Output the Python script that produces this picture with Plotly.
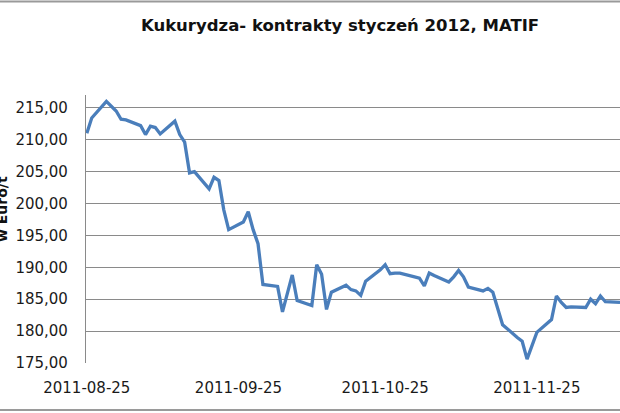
import plotly.graph_objects as go

title_text = "Kukurydza- kontrakty styczeń 2012, MATIF"
y_title = "w Euro/t"

dates = [
    "2011-08-25", "2011-08-26", "2011-08-29", "2011-08-30", "2011-08-31",
    "2011-09-01", "2011-09-02", "2011-09-05", "2011-09-06", "2011-09-07",
    "2011-09-08", "2011-09-09", "2011-09-12", "2011-09-13", "2011-09-14",
    "2011-09-15", "2011-09-16", "2011-09-19", "2011-09-20", "2011-09-21",
    "2011-09-22", "2011-09-23", "2011-09-26", "2011-09-27", "2011-09-28",
    "2011-09-29", "2011-09-30", "2011-10-03", "2011-10-04", "2011-10-05",
    "2011-10-06", "2011-10-07", "2011-10-10", "2011-10-11", "2011-10-12",
    "2011-10-13", "2011-10-14", "2011-10-17", "2011-10-18", "2011-10-19",
    "2011-10-20", "2011-10-21", "2011-10-24", "2011-10-25", "2011-10-26",
    "2011-10-27", "2011-10-28", "2011-10-31", "2011-11-01", "2011-11-02",
    "2011-11-03", "2011-11-04", "2011-11-07", "2011-11-08", "2011-11-09",
    "2011-11-10", "2011-11-11", "2011-11-14", "2011-11-15", "2011-11-16",
    "2011-11-17", "2011-11-18", "2011-11-21", "2011-11-22", "2011-11-23",
    "2011-11-24", "2011-11-25", "2011-11-28", "2011-11-29", "2011-11-30",
    "2011-12-01", "2011-12-02", "2011-12-05", "2011-12-06", "2011-12-07",
    "2011-12-08", "2011-12-09", "2011-12-12",
]

prices = [
    211.0, 213.4, 216.0, 215.2, 214.5,
    213.2, 213.1, 212.2, 210.8, 212.1,
    211.9, 210.9, 212.9, 210.8, 209.6,
    204.8, 205.0, 202.3, 204.1, 203.6,
    199.0, 195.9, 197.1, 198.7, 195.9,
    193.7, 187.3, 187.0, 183.0, 185.9,
    188.8, 184.8, 184.0, 190.4, 188.9,
    183.4, 186.1, 187.2, 186.5, 186.3,
    185.6, 187.8, 189.6, 190.4, 189.0,
    189.1, 189.1, 188.5, 188.3, 187.1,
    189.1, 188.7, 187.7, 188.5, 189.5,
    188.5, 186.9, 186.3, 186.7, 186.1,
    183.4, 181.0, 179.0, 178.4, 175.6,
    177.8, 179.8, 181.8, 185.5, 184.5,
    183.7, 183.8, 183.7, 185.0, 184.3,
    185.5, 184.6, 184.5,
]

y_tick_vals = [175, 180, 185, 190, 195, 200, 205, 210, 215]
y_tick_text = ["175,00", "180,00", "185,00", "190,00", "195,00",
               "200,00", "205,00", "210,00", "215,00"]
x_tick_vals = ["2011-08-25", "2011-09-25", "2011-10-25", "2011-11-25"]
x_tick_text = ["2011-08-25", "2011-09-25", "2011-10-25", "2011-11-25"]

grid_col = "#8a8a8a"
font_fam = "DejaVu Sans"

fig = go.Figure()
fig.add_trace(go.Scatter(
    x=dates, y=prices, mode="lines",
    line=dict(color="#4a7ebb", width=3.3),
    showlegend=False,
))

fig.update_layout(
    width=620, height=413,
    margin=dict(l=86, r=0, t=95, b=50),
    paper_bgcolor="white", plot_bgcolor="white",
    font=dict(family=font_fam, size=15, color="#1a1a1a"),
    title=dict(
        text="<b>" + title_text + "</b>",
        x=340 / 620, xref="container", xanchor="center",
        y=1 - 25 / 413, yref="container", yanchor="middle",
        font=dict(family=font_fam, size=16.5, color="#111111"),
    ),
    xaxis=dict(
        type="date",
        range=["2011-08-24 20:00", "2011-12-12"],
        tickvals=x_tick_vals, ticktext=x_tick_text,
        showgrid=False, showline=False, zeroline=False,
        ticks="", ticklabelstandoff=14,
        tickfont=dict(family=font_fam, size=15, color="#1a1a1a"),
    ),
    yaxis=dict(
        range=[175, 217],
        tickvals=y_tick_vals, ticktext=y_tick_text,
        showgrid=True, gridcolor=grid_col, gridwidth=1.2,
        showline=True, linecolor=grid_col, linewidth=1.2,
        zeroline=False, ticks="", ticklabelstandoff=14,
        tickfont=dict(family=font_fam, size=15, color="#1a1a1a"),
    ),
    annotations=[dict(
        text="<b>" + y_title + "</b>", textangle=-90,
        xref="paper", yref="paper",
        x=-84 / 534, y=(363 - 209) / 268,
        xanchor="center", yanchor="middle", showarrow=False,
        font=dict(family=font_fam, size=14, color="#111111"),
    )],
    shapes=[
        dict(type="line", xref="paper", yref="paper",
             x0=-0.2, x1=1.05, y0=(363 - 1.5) / 268, y1=(363 - 1.5) / 268,
             line=dict(color="#9a9a9a", width=2)),
        dict(type="line", xref="paper", yref="paper",
             x0=-0.2, x1=1.05, y0=(363 - 410) / 268, y1=(363 - 410) / 268,
             line=dict(color="#9a9a9a", width=2)),
    ],
)

fig.write_html(
    "out.html",
    config={"displayModeBar": False},
    post_script="document.body.style.margin='0';document.body.style.overflow='hidden';",
)
